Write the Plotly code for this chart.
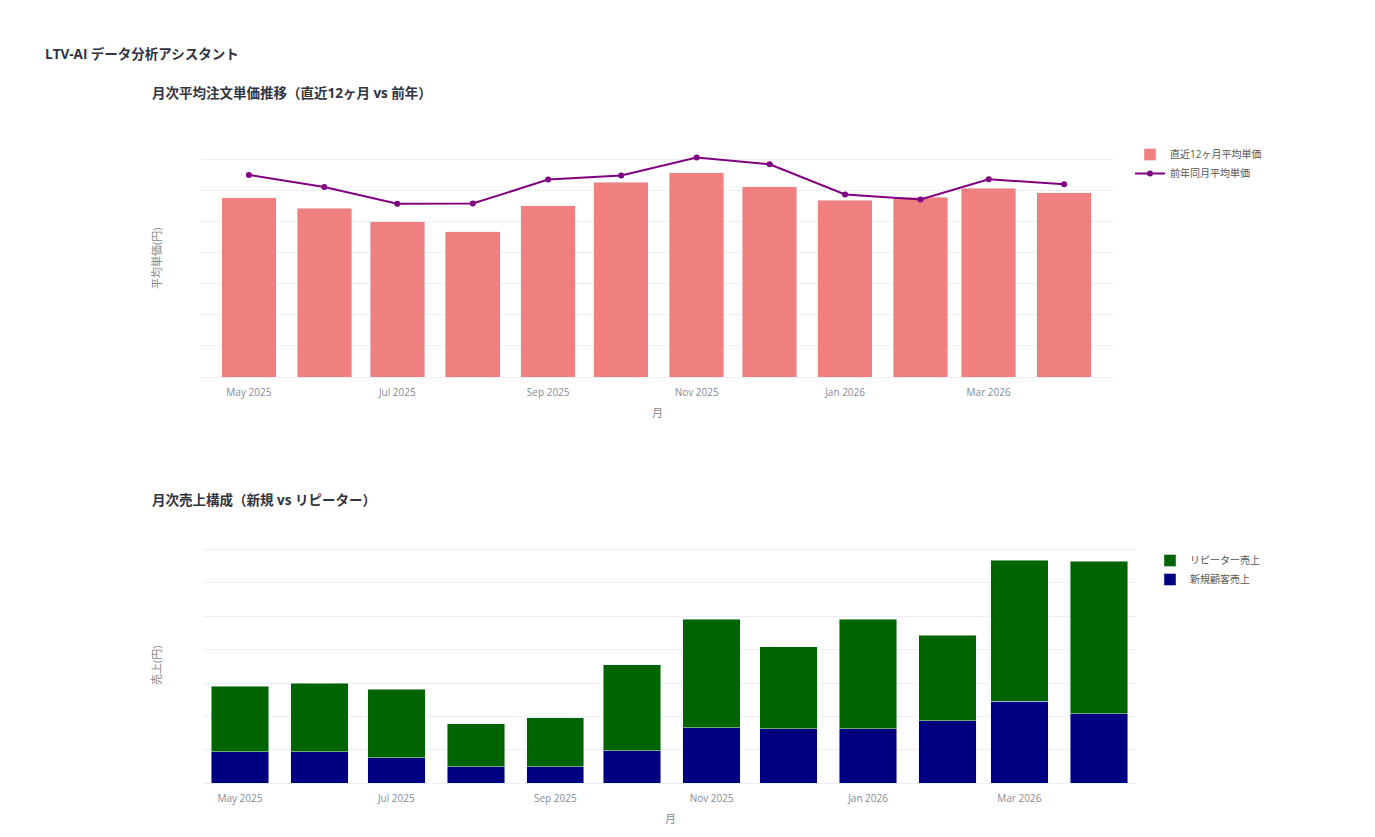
import plotly.graph_objects as go

W, H = 1375, 837

months = ["2025-05-01", "2025-06-01", "2025-07-01", "2025-08-01", "2025-09-01", "2025-10-01",
          "2025-11-01", "2025-12-01", "2026-01-01", "2026-02-01", "2026-03-01", "2026-04-01"]

# 月次平均注文単価 (円)
avg_price_recent = [5760, 5430, 5000, 4680, 5510, 6260, 6570, 6120, 5680, 5780, 6070, 5920]
avg_price_prev_year = [6500, 6110, 5570, 5580, 6350, 6480, 7060, 6840, 5870, 5710, 6360, 6200]

# 月次売上構成 (円)
sales_new = [945000, 940000, 770000, 490000, 490000, 970000, 1660000, 1630000, 1630000, 1870000, 2460000, 2080000]
sales_repeat = [1955000, 2060000, 2050000, 1290000, 1470000, 2580000, 3250000, 2450000, 3280000, 2560000, 4220000, 4560000]

FONT = "Open Sans, Noto Sans CJK JP, sans-serif"
TICK_COLOR = "#848b99"
TITLE_COLOR = "#31333F"


def px(x):
    return x / W


def py(y):
    return 1 - y / H


fig = go.Figure()

fig.add_trace(go.Bar(x=months, y=avg_price_recent, name="直近12ヶ月平均単価",
                     marker=dict(color="#F08080"), xaxis="x", yaxis="y", legend="legend"))
fig.add_trace(go.Scatter(x=months, y=avg_price_prev_year, name="前年同月平均単価",
                         mode="lines+markers", line=dict(color="#800080", width=2),
                         marker=dict(size=6, color="#800080"), xaxis="x", yaxis="y", legend="legend"))

fig.add_trace(go.Bar(x=months, y=sales_new, name="新規顧客売上",
                     marker=dict(color="#000080"), xaxis="x2", yaxis="y2", legend="legend2"))
fig.add_trace(go.Bar(x=months, y=sales_repeat, name="リピーター売上",
                     marker=dict(color="#006400"), xaxis="x2", yaxis="y2", legend="legend2"))

grid = "#EBF0F8"
common_x = dict(type="date", tickformat="%b %Y", dtick="M2", tick0="2025-05-01",
                showgrid=False, tickfont=dict(size=10, color=TICK_COLOR), ticks="",
                ticklabelstandoff=8, showline=False, zeroline=False)
common_y = dict(showticklabels=False, showgrid=True, gridcolor=grid, zeroline=True,
                zerolinecolor=grid, zerolinewidth=1, ticks="")

fig.update_layout(
    width=W, height=H,
    margin=dict(l=0, r=0, t=0, b=0),
    paper_bgcolor="white", plot_bgcolor="white",
    font=dict(family=FONT, color=TITLE_COLOR),
    barmode="stack",
    showlegend=True,
    xaxis=dict(common_x, domain=[px(201), px(1114)], anchor="y",
               range=["2025-04-11 08:00", "2026-04-21 12:00"]),
    yaxis=dict(common_y, domain=[py(377), py(146)], anchor="x",
               range=[0, 7430], dtick=1000),
    xaxis2=dict(common_x, domain=[px(204), px(1136)], anchor="y2",
                range=["2025-04-17", "2026-04-15 12:00"]),
    yaxis2=dict(common_y, domain=[py(783.3), py(548)], anchor="x2",
                range=[0, 7040000], dtick=1000000),
    legend=dict(x=px(1130), y=py(140), xanchor="left", yanchor="top",
                font=dict(size=10, color="#555"), bgcolor="rgba(0,0,0,0)",
                traceorder="normal", tracegroupgap=0),
    legend2=dict(x=px(1150), y=py(546), xanchor="left", yanchor="top",
                 font=dict(size=10, color="#555"), bgcolor="rgba(0,0,0,0)",
                 traceorder="reversed"),
)

annotations = [
    dict(text="<b>LTV-AI データ分析アシスタント</b>", x=px(43), y=py(54), xanchor="left",
         yanchor="middle", font=dict(size=13.5, color=TITLE_COLOR)),
    dict(text="<b>月次平均注文単価推移（直近12ヶ月 vs 前年）</b>", x=px(150), y=py(93),
         xanchor="left", yanchor="middle", font=dict(size=13.5, color=TITLE_COLOR)),
    dict(text="<b>月次売上構成（新規 vs リピーター）</b>", x=px(150), y=py(500),
         xanchor="left", yanchor="middle", font=dict(size=13.5, color=TITLE_COLOR)),
    dict(text="平均単価(円)", x=px(156), y=py(258), textangle=-90, xanchor="center",
         yanchor="middle", font=dict(size=11, color="#888")),
    dict(text="月", x=px(657), y=py(412), xanchor="center", yanchor="middle",
         font=dict(size=11, color="#888")),
    dict(text="売上(円)", x=px(156), y=py(665), textangle=-90, xanchor="center",
         yanchor="middle", font=dict(size=11, color="#888")),
    dict(text="月", x=px(670), y=py(818), xanchor="center", yanchor="middle",
         font=dict(size=11, color="#888")),
]
for a in annotations:
    a.update(xref="paper", yref="paper", showarrow=False)
fig.update_layout(annotations=annotations)

fig.write_html("out.html")
